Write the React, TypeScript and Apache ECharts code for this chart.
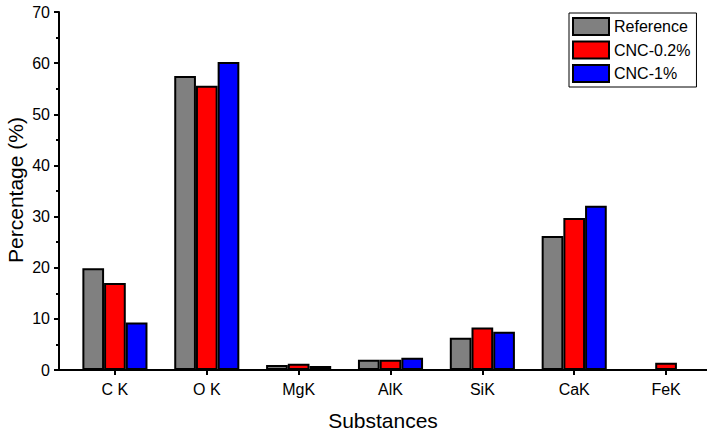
import React, { useEffect, useRef } from "react";
import * as echarts from "echarts";

const categories = ["C K", "O K", "MgK", "AlK", "SiK", "CaK", "FeK"];
const referenceValues = [19.9, 57.5, 1.0, 2.0, 6.3, 26.2, null];
const cnc02Values = [17.0, 55.6, 1.2, 2.0, 8.3, 29.7, 1.4];
const cnc1Values = [9.3, 60.2, 0.8, 2.4, 7.5, 32.1, null];
const seriesNames = ["Reference", "CNC-0.2%", "CNC-1%"];
const seriesColors = ["#808080", "#ff0000", "#0000ff"];
const yTicks = { min: 0, max: 70, interval: 10 };

const FONT = 'Arial, "Liberation Sans", sans-serif';

export default function App() {
  const ref = useRef<HTMLDivElement>(null);
  useEffect(() => {
    if (!ref.current) return;
    const chart = echarts.init(ref.current, null, { renderer: "svg" });
    const data = [referenceValues, cnc02Values, cnc1Values];
    chart.setOption({
      animation: false,
      backgroundColor: "#ffffff",
      grid: { left: 69, top: 12, width: 647.5, height: 358 },
      legend: {
        orient: "vertical",
        left: 569,
        top: 13,
        width: 128,
        padding: [4, 6, 4, 3],
        borderColor: "#000",
        borderWidth: 1,
        itemWidth: 36,
        itemHeight: 17,
        itemGap: 4.5,
        icon: "rect",
        textStyle: { fontFamily: FONT, fontSize: 16, color: "#000" },
        data: seriesNames,
      },
      xAxis: {
        type: "category",
        data: categories,
        axisLine: { show: false },
        axisTick: {
          show: true,
          alignWithLabel: true,
          length: 5,
          lineStyle: { color: "#000", width: 2 },
        },
        axisLabel: {
          fontFamily: FONT,
          fontSize: 16,
          color: "#000",
          margin: 11,
        },
      },
      yAxis: {
        type: "value",
        min: yTicks.min,
        max: yTicks.max,
        interval: yTicks.interval,
        offset: 10,
        splitLine: { show: false },
        axisLine: { show: true, lineStyle: { color: "#000", width: 2 } },
        axisTick: { show: true, length: 5, lineStyle: { color: "#000", width: 2 } },
        minorTick: { show: true, splitNumber: 2, length: 3, lineStyle: { color: "#000", width: 2 } },
        axisLabel: { fontFamily: FONT, fontSize: 16, color: "#000", margin: 9 },
      },
      graphic: [
        {
          type: "line",
          shape: { x1: 59, y1: 370, x2: 707, y2: 370 },
          style: { stroke: "#000", lineWidth: 2 },
          z: 100,
        },
        {
          type: "text",
          x: 383,
          y: 420,
          style: {
            text: "Substances",
            fontFamily: FONT,
            fontSize: 21,
            fill: "#000",
            align: "center",
            verticalAlign: "middle",
          },
        },
        {
          type: "text",
          x: 15,
          y: 190,
          rotation: Math.PI / 2,
          style: {
            text: "Percentage (%)",
            fontFamily: FONT,
            fontSize: 21,
            fill: "#000",
            align: "center",
            verticalAlign: "middle",
          },
        },
      ],
      series: seriesNames.map((name, i) => ({
        name,
        type: "bar",
        data: data[i],
        barWidth: 21.7,
        barGap: "0%",
        itemStyle: { color: seriesColors[i], borderColor: "#000", borderWidth: 2 },
      })),
    });
    return () => chart.dispose();
  }, []);
  return (
    <div
      ref={ref}
      style={{ position: "fixed", left: 0, top: 0, width: 712, height: 432 }}
    />
  );
}
